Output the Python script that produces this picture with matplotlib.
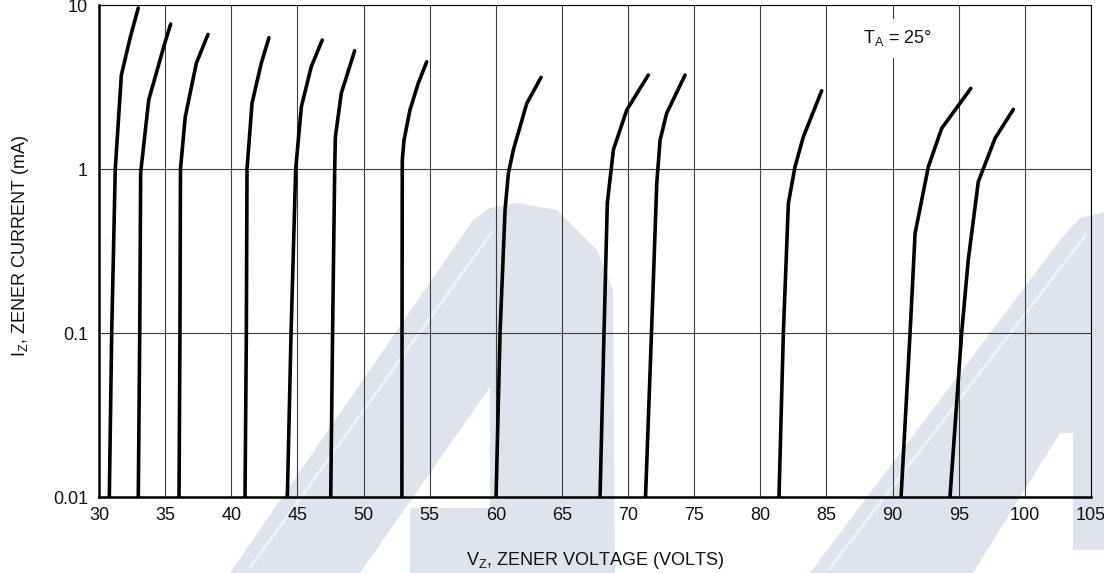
import matplotlib
matplotlib.use("Agg")
import matplotlib.pyplot as plt
from matplotlib import font_manager
from matplotlib.patches import Polygon
from matplotlib.lines import Line2D
from matplotlib.ticker import NullLocator, FixedLocator, FixedFormatter

# ---------------- data ----------------
x_ticks = [30, 35, 40, 45, 50, 55, 60, 65, 70, 75, 80, 85, 90, 95, 100, 105]
y_ticks = [0.01, 0.1, 1, 10]
y_tick_labels = ["0.01", "0.1", "1", "10"]

v1 = [30.78, 30.96, 31.23, 31.69, 32.37, 32.97]
i1 = [0.01, 0.1, 1.0, 3.74, 6.38, 9.6]
v2 = [32.97, 33.08, 33.15, 33.76, 34.97, 35.42]
i2 = [0.01, 0.1, 0.95, 2.64, 5.84, 7.66]
v3 = [36.05, 36.12, 36.16, 36.52, 37.36, 38.24]
i3 = [0.01, 0.1, 1.0, 2.08, 4.42, 6.62]
v4 = [41.04, 41.14, 41.19, 41.57, 42.27, 42.85]
i4 = [0.01, 0.1, 1.0, 2.52, 4.42, 6.32]
v5 = [44.24, 44.52, 44.87, 45.30, 46.05, 46.88]
i5 = [0.01, 0.1, 1.0, 2.40, 4.21, 6.12]
v6 = [47.52, 47.66, 47.82, 47.87, 48.32, 49.33]
i6 = [0.01, 0.1, 1.0, 1.57, 2.90, 5.26]
v7 = [52.90, 52.91, 52.93, 53.06, 53.51, 54.14, 54.78]
i7 = [0.01, 0.1, 1.13, 1.5, 2.29, 3.34, 4.51]
v8 = [60.02, 60.32, 60.70, 60.95, 61.33, 62.34, 63.42]
i8 = [0.01, 0.1, 0.562, 0.94, 1.31, 2.51, 3.62]
v9 = [67.88, 68.18, 68.43, 68.89, 69.90, 71.53]
i9 = [0.01, 0.1, 0.618, 1.31, 2.29, 3.74]
v10 = [71.32, 71.77, 72.17, 72.42, 72.92, 74.31]
i10 = [0.01, 0.1, 0.818, 1.50, 2.19, 3.74]
v11 = [81.41, 81.74, 82.12, 82.62, 83.25, 84.64]
i11 = [0.01, 0.1, 0.618, 1.03, 1.57, 3.0]
v12 = [90.64, 91.32, 91.70, 92.70, 93.71, 95.91]
i12 = [0.01, 0.1, 0.405, 1.03, 1.77, 3.10]
v13 = [94.34, 95.22, 95.72, 96.48, 97.75, 99.13]
i13 = [0.01, 0.1, 0.279, 0.837, 1.54, 2.31]

curves = [(v1, i1), (v2, i2), (v3, i3), (v4, i4), (v5, i5), (v6, i6), (v7, i7),
          (v8, i8), (v9, i9), (v10, i10), (v11, i11), (v12, i12), (v13, i13)]

x_label = r"$\mathregular{V_Z}$, ZENER VOLTAGE (VOLTS)"
y_label = r"$\mathregular{I_Z}$, ZENER CURRENT (mA)"
note = r"$\mathregular{T_A}$ = 25°"

# ---------------- fonts ----------------
avail = {f.name for f in font_manager.fontManager.ttflist}
fam = "Liberation Sans Narrow" if "Liberation Sans Narrow" in avail else "Liberation Sans"
plt.rcParams["font.family"] = [fam, "DejaVu Sans"]
plt.rcParams["mathtext.fontset"] = "custom"
plt.rcParams["mathtext.rm"] = fam
plt.rcParams["mathtext.it"] = fam
plt.rcParams["mathtext.bf"] = fam

W, H = 1104, 573
fig = plt.figure(figsize=(W / 100, H / 100), dpi=100)

def fx(px):
    return px / W

def fy(py):
    return 1 - py / H

# ---------------- background watermark (decoration) ----------------
wm_color = "#dfe3ee"
wm_shapes = [
    [(230, 573), (473, 220), (490, 208), (517, 203), (557, 210), (597, 250),
     (613, 290), (615, 573), (410, 573), (410, 508), (490, 508), (490, 387), (360, 573)],
    [(810, 573), (1060, 240), (1080, 218), (1104, 212), (1104, 550), (1073, 550),
     (1073, 433), (1060, 433), (973, 573)],
]
for shp in wm_shapes:
    fig.add_artist(Polygon([(fx(a), fy(b)) for a, b in shp], closed=True,
                           facecolor=wm_color, edgecolor="none",
                           transform=fig.transFigure, zorder=-5))
wm_stripes = [[(250, 568), (492, 232)], [(830, 568), (1085, 236)]]
for (a0, b0), (a1, b1) in wm_stripes:
    fig.add_artist(Line2D([fx(a0), fx(a1)], [fy(b0), fy(b1)], color="white",
                          alpha=0.55, lw=2.0, transform=fig.transFigure, zorder=-4))

# ---------------- axes ----------------
left, right, top, bottom = 99, 1091, 5, 497
ax = fig.add_axes([fx(left), fy(bottom), (right - left) / W, (bottom - top) / H])
ax.set_facecolor("none")
ax.set_yscale("log")
ax.set_xlim(30, 105)
ax.set_ylim(0.01, 10)

ax.xaxis.set_major_locator(FixedLocator(x_ticks))
ax.xaxis.set_major_formatter(FixedFormatter([str(t) for t in x_ticks]))
ax.yaxis.set_major_locator(FixedLocator(y_ticks))
ax.yaxis.set_major_formatter(FixedFormatter(y_tick_labels))
ax.yaxis.set_minor_locator(NullLocator())
ax.xaxis.set_minor_locator(NullLocator())

ax.grid(True, which="major", color="#3c3c3c", lw=0.8, zorder=1)
ax.set_axisbelow(True)
ax.tick_params(axis="both", length=0, labelsize=13, colors="#111111")
ax.tick_params(axis="y", pad=8)
ax.tick_params(axis="x", pad=7)

for s in ("left", "bottom"):
    ax.spines[s].set_linewidth(1.8)
for s in ("top", "right"):
    ax.spines[s].set_linewidth(0.8)
for s in ax.spines.values():
    s.set_color("black")
    s.set_zorder(3)

for v, i in curves:
    ax.plot(v, i, color="black", lw=2.6, solid_capstyle="round",
            solid_joinstyle="round", zorder=4)

# ---------------- labels ----------------
fig.text(fx(595), fy(565), x_label, ha="center", va="baseline", fontsize=13,
         color="#111111")
fig.text(fx(25), fy(246), y_label, ha="center", va="baseline", rotation=90,
         rotation_mode="anchor", fontsize=13, color="#111111")
fig.text(fx(863), fy(43.5), note, ha="left", va="baseline", fontsize=13,
         color="#111111",
         bbox=dict(facecolor="white", edgecolor="none", pad=7))

fig.savefig("out.png", dpi=100)
